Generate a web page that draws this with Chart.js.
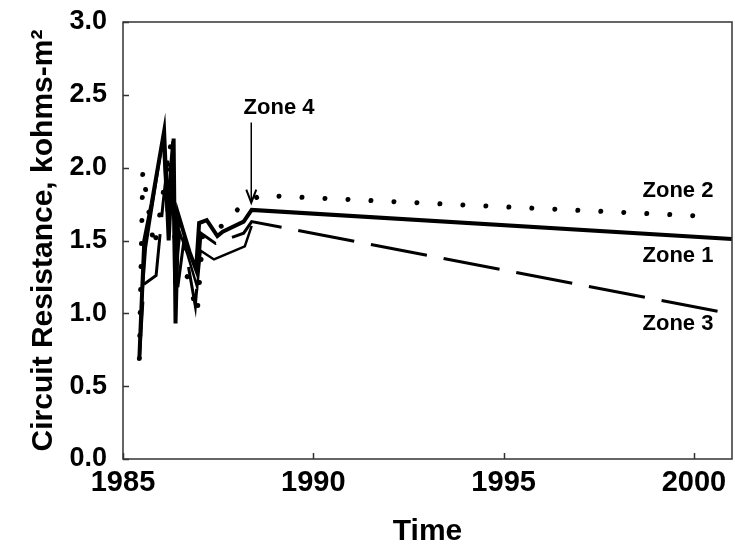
<!DOCTYPE html>
<html>
<head>
<meta charset="utf-8">
<script src="https://cdn.jsdelivr.net/npm/chart.js@4.4.1/dist/chart.umd.min.js"></script>
<style>
  html, body { margin: 0; padding: 0; background: #fff; }
  #wrap { width: 735px; height: 554px; }
</style>
</head>
<body>
<div id="wrap"><canvas id="c" width="735" height="554"></canvas></div>
<script>
// ---- data ----
const zone1Years  = [1985.43, 1985.47, 1985.56, 1985.75, 1986.08, 1986.2, 1986.33, 1986.38, 1986.45, 1986.6, 1986.75, 1986.92, 1987.0, 1987.2, 1987.48, 1987.62, 1988.17, 1988.38, 2001];
const zone1Values = [0.69, 0.95, 1.50, 1.75, 2.25, 1.50, 2.20, 0.93, 1.68, 1.55, 1.42, 1.30, 1.62, 1.64, 1.53, 1.56, 1.63, 1.71, 1.51];

const zone2Years  = [1985.43, 1985.52, 1985.82, 1985.95, 1986.25, 1986.4, 1986.7, 1986.95, 1987.1, 1987.6, 1988.04, 1988.6, 2000.4];
const zone2Values = [0.69, 1.98, 1.45, 1.65, 2.15, 1.30, 1.25, 1.00, 1.55, 1.60, 1.72, 1.81, 1.665];

const zone3Years  = [1985.43, 1985.55, 1985.87, 1986.05, 1986.2, 1986.3, 1986.4, 1986.6, 1986.9, 1987.05, 1987.43, 1988.17, 1988.38, 2001];
const zone3Values = [0.69, 1.20, 1.26, 1.75, 2.10, 1.90, 1.10, 1.50, 1.05, 1.55, 1.48, 1.55, 1.63, 0.995];

const zone4Years  = [1985.43, 1985.5, 1985.6, 1986.05, 1986.15, 1986.3, 1986.35, 1986.5, 1986.7, 1986.95, 1987.04, 1987.39, 1988.2, 1988.38];
const zone4Values = [0.69, 1.10, 1.45, 2.20, 1.70, 2.18, 1.20, 1.55, 1.40, 1.18, 1.43, 1.37, 1.46, 1.60];

const xTickValues = [1985, 1990, 1995, 2000];
const yTickValues = [0, 0.5, 1.0, 1.5, 2.0, 2.5, 3.0];

const zoneLabels = ['Zone 2', 'Zone 1', 'Zone 3'];
const zoneLabelX = [1999.58, 1999.58, 1999.58];
const zoneLabelY = [1.843, 1.397, 0.927];

const arrowLabel = 'Zone 4';
const arrowLabelX = 1989.1;
const arrowLabelY = 2.41;
const arrowX = 1988.37;
const arrowTailY = 2.31;
const arrowTipY = 1.76;

const xTitle = 'Time';
const yTitle = 'Circuit Resistance, kohms-m\u00B2';

// ---- helpers ----
function pts(xs, ys) { return xs.map((x, i) => ({ x: x, y: ys[i] })); }
const FONT = "'Liberation Sans', Arial, Helvetica, sans-serif";
const INK = '#000';

const decor = {
  id: 'decor',
  afterDatasetsDraw(chart) {
    const ctx = chart.ctx;
    const a = chart.chartArea;
    const xs = chart.scales.x, ys = chart.scales.y;
    ctx.save();
    // frame
    ctx.strokeStyle = '#333';
    ctx.lineWidth = 1.5;
    ctx.strokeRect(a.left, a.top, a.right - a.left, a.bottom - a.top);
    // inner ticks
    ctx.lineWidth = 1.5;
    ctx.beginPath();
    yTickValues.forEach(v => {
      const py = Math.round(ys.getPixelForValue(v)) + 0.5;
      ctx.moveTo(a.left, py); ctx.lineTo(a.left + 6, py);
    });
    xTickValues.forEach(v => {
      const px = Math.round(xs.getPixelForValue(v)) + 0.5;
      ctx.moveTo(px, a.bottom); ctx.lineTo(px, a.bottom - 6);
    });
    ctx.stroke();
    // zone labels
    ctx.fillStyle = INK;
    ctx.font = 'bold 22px ' + FONT;
    ctx.textAlign = 'center';
    ctx.textBaseline = 'middle';
    zoneLabels.forEach((t, i) => {
      ctx.fillText(t, xs.getPixelForValue(zoneLabelX[i]), ys.getPixelForValue(zoneLabelY[i]));
    });
    ctx.fillText(arrowLabel, xs.getPixelForValue(arrowLabelX), ys.getPixelForValue(arrowLabelY));
    // arrow
    const ax = xs.getPixelForValue(arrowX);
    const ay1 = ys.getPixelForValue(arrowTailY);
    const ay2 = ys.getPixelForValue(arrowTipY);
    ctx.strokeStyle = INK;
    ctx.lineWidth = 1.5;
    ctx.beginPath();
    ctx.moveTo(ax, ay1); ctx.lineTo(ax, ay2);
    ctx.stroke();
    ctx.lineWidth = 2;
    ctx.beginPath();
    ctx.moveTo(ax - 5, ay2 - 13); ctx.lineTo(ax, ay2); ctx.lineTo(ax + 5, ay2 - 13);
    ctx.stroke();
    ctx.restore();
  }
};

new Chart(document.getElementById('c'), {
  type: 'line',
  data: {
    datasets: [
      { label: 'Zone 2', data: pts(zone2Years, zone2Values), borderColor: INK, borderWidth: 5,
        borderDash: [0.01, 23], borderCapStyle: 'round', pointRadius: 0, tension: 0, fill: false },
      { label: 'Zone 3', data: pts(zone3Years, zone3Values), borderColor: INK, borderWidth: 3,
        borderDash: [57, 17], pointRadius: 0, tension: 0, fill: false },
      { label: 'Zone 4', data: pts(zone4Years, zone4Values), borderColor: INK, borderWidth: 2.5,
        pointRadius: 0, tension: 0, fill: false },
      { label: 'Zone 1', data: pts(zone1Years, zone1Values), borderColor: INK, borderWidth: 4,
        pointRadius: 0, tension: 0, fill: false }
    ]
  },
  options: {
    responsive: false,
    animation: false,
    events: [],
    layout: { padding: { left: 0, right: 3, top: 22, bottom: 0 } },
    plugins: { legend: { display: false }, tooltip: { enabled: false } },
    scales: {
      x: {
        type: 'linear', min: 1985, max: 2001,
        grid: { display: false, drawTicks: false },
        border: { display: false },
        afterBuildTicks: s => { s.ticks = xTickValues.map(v => ({ value: v })); },
        afterFit: s => { s.height = 95; s.paddingLeft = 0; s.paddingRight = 0; },
        ticks: { color: INK, padding: 7, maxRotation: 0, autoSkip: false,
          font: { family: FONT, size: 29, weight: 'bold' },
          callback: v => String(v) },
        title: { display: true, text: xTitle, color: INK, padding: { top: 0, bottom: 4 },
          font: { family: FONT, size: 30, weight: 'bold' } }
      },
      y: {
        type: 'linear', min: 0, max: 3,
        grid: { display: false, drawTicks: false },
        border: { display: false },
        afterBuildTicks: s => { s.ticks = yTickValues.map(v => ({ value: v })); },
        afterFit: s => { s.width = 123; s.paddingTop = 0; s.paddingBottom = 0; },
        ticks: { color: INK, padding: 16, autoSkip: false,
          font: { family: FONT, size: 27, weight: 'bold' },
          callback: v => Number(v).toFixed(1) },
        title: { display: true, text: yTitle, color: INK, padding: { top: 26, bottom: 0 },
          font: { family: FONT, size: 30, weight: 'bold' } }
      }
    }
  },
  plugins: [decor]
});
</script>
</body>
</html>
